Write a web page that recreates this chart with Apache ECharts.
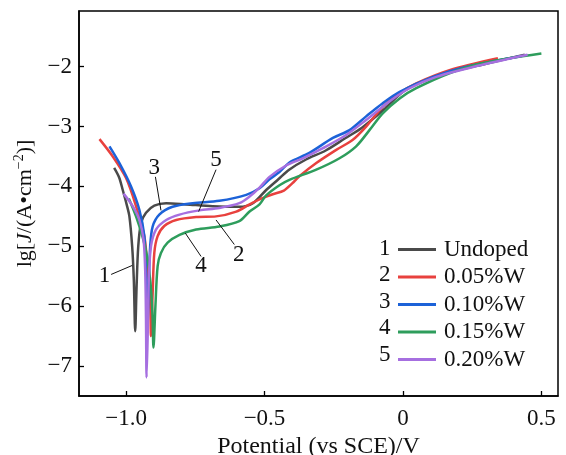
<!DOCTYPE html>
<html>
<head>
<meta charset="utf-8">
<script src="https://cdn.jsdelivr.net/npm/echarts@6/dist/echarts.min.js"></script>
<style>
  html, body { margin: 0; padding: 0; background: #fff; }
  #chart { width: 566px; height: 455px; }
</style>
</head>
<body>
<div id="chart"></div>
<script>
// series names (legend) and their numbers
const seriesNames = ['Undoped', '0.05%W', '0.10%W', '0.15%W', '0.20%W']
const seriesNumbers = ['1', '2', '3', '4', '5']
const seriesColors = ['#4a4a4a', '#e8413e', '#1c62d8', '#2e9d5c', '#a66fe0']

// [potential V, lg J]
const undoped = [
  [-1.043, -3.69], [-1.025, -3.85], [-1.012, -4.06], [-0.998, -4.3], [-0.988, -4.5],
  [-0.978, -5.0], [-0.972, -5.56], [-0.967, -6.42], [-0.962, -5.67], [-0.956, -5.0],
  [-0.946, -4.61], [-0.928, -4.44], [-0.898, -4.32], [-0.855, -4.28], [-0.783, -4.3],
  [-0.687, -4.33], [-0.591, -4.34], [-0.542, -4.28], [-0.494, -4.06], [-0.45, -3.88],
  [-0.411, -3.72], [-0.35, -3.55], [-0.279, -3.4], [-0.21, -3.2], [-0.148, -3.02],
  [-0.07, -2.72], [0.0, -2.42], [0.06, -2.27], [0.15, -2.12], [0.3, -1.95], [0.44, -1.8]
]
const w005 = [
  [-1.096, -3.21], [-1.048, -3.5], [-1.0, -3.86], [-0.964, -4.33], [-0.934, -4.83],
  [-0.922, -5.39], [-0.913, -5.92], [-0.91, -6.5], [-0.904, -5.78], [-0.898, -5.11],
  [-0.886, -4.83], [-0.862, -4.66], [-0.819, -4.56], [-0.747, -4.51], [-0.675, -4.5],
  [-0.602, -4.42], [-0.554, -4.3], [-0.51, -4.2], [-0.47, -4.13], [-0.43, -4.07],
  [-0.4, -3.95], [-0.374, -3.83], [-0.313, -3.61], [-0.241, -3.39], [-0.181, -3.22],
  [-0.133, -3.0], [-0.073, -2.67], [-0.012, -2.44], [0.048, -2.28], [0.168, -2.06], [0.343, -1.86]
]
const w010 = [
  [-1.06, -3.33], [-1.024, -3.61], [-0.982, -4.0], [-0.952, -4.39], [-0.934, -4.83],
  [-0.928, -5.39], [-0.925, -6.0], [-0.923, -6.35], [-0.918, -5.67], [-0.913, -5.0],
  [-0.904, -4.67], [-0.88, -4.47], [-0.832, -4.34], [-0.759, -4.28], [-0.663, -4.24],
  [-0.566, -4.14], [-0.518, -4.03], [-0.482, -3.88], [-0.446, -3.76], [-0.41, -3.6],
  [-0.338, -3.44], [-0.253, -3.19], [-0.193, -3.06], [-0.133, -2.83], [-0.073, -2.61],
  [-0.012, -2.42], [0.108, -2.17], [0.229, -2.0], [0.43, -1.82]
]
const w015 = [
  [-0.99, -4.2], [-0.964, -4.5], [-0.94, -4.85], [-0.925, -5.15], [-0.912, -5.6],
  [-0.905, -6.1], [-0.901, -6.69], [-0.894, -6.0], [-0.886, -5.33], [-0.874, -5.11],
  [-0.85, -4.94], [-0.807, -4.81], [-0.747, -4.72], [-0.663, -4.67], [-0.591, -4.58],
  [-0.554, -4.42], [-0.518, -4.3], [-0.494, -4.15], [-0.446, -3.98], [-0.41, -3.89],
  [-0.313, -3.72], [-0.229, -3.53], [-0.169, -3.33], [-0.121, -3.06], [-0.073, -2.78],
  [-0.012, -2.53], [0.048, -2.36], [0.168, -2.11], [0.289, -1.94], [0.5, -1.78]
]
const w020 = [
  [-1.009, -4.12], [-0.976, -4.33], [-0.952, -4.56], [-0.937, -4.89], [-0.931, -5.39],
  [-0.928, -6.22], [-0.926, -7.19], [-0.922, -6.5], [-0.918, -5.56], [-0.91, -5.0],
  [-0.892, -4.72], [-0.855, -4.56], [-0.807, -4.47], [-0.735, -4.4], [-0.663, -4.36],
  [-0.591, -4.28], [-0.554, -4.17], [-0.518, -4.02], [-0.482, -3.84], [-0.422, -3.65],
  [-0.362, -3.53], [-0.289, -3.36], [-0.205, -3.14], [-0.133, -2.89], [-0.049, -2.58],
  [0.024, -2.36], [0.12, -2.17], [0.265, -1.99], [0.45, -1.8]
]
const allSeries = [undoped, w005, w010, w015, w020]

// ticks
const xTickValues = [-1, -0.5, 0, 0.5]
const xTickLabels = ['\u22121.0', '\u22120.5', '0', '0.5']
const yTickValues = [-7, -6, -5, -4, -3, -2]
const yTickLabels = ['\u22127', '\u22126', '\u22125', '\u22124', '\u22123', '\u22122']

// curve callouts: number position, leader line start, leader line end
const calloutText = [[-1.078, -5.5], [-0.593, -5.14], [-0.898, -3.69], [-0.729, -5.33], [-0.675, -3.56]]
const calloutFrom = [[-1.054, -5.47], [-0.609, -4.97], [-0.894, -3.84], [-0.729, -5.17], [-0.675, -3.72]]
const calloutTo = [[-0.978, -5.32], [-0.675, -4.56], [-0.874, -4.4], [-0.786, -4.78], [-0.738, -4.42]]

const FONT = '"Liberation Serif", "Times New Roman", serif'

const chart = echarts.init(document.getElementById('chart'))

const legendTop = 238
const rowStep = 26.5

chart.setOption({
  animation: false,
  backgroundColor: '#fff',
  grid: {
    left: 79, right: 8, top: 11, bottom: 59,
    outerBoundsMode: 'none',
    show: true, borderColor: '#000', borderWidth: 1.5
  },
  xAxis: {
    type: 'value',
    min: -1.17, max: 0.56,
    name: 'Potential (vs SCE)/V',
    nameLocation: 'middle',
    nameGap: 32,
    nameTextStyle: { fontFamily: FONT, fontSize: 24, color: '#111' },
    axisLine: { onZero: false, lineStyle: { color: '#000', width: 1.5 } },
    axisTick: { inside: true, length: 5, customValues: xTickValues, lineStyle: { color: '#000', width: 1.3 } },
    axisLabel: {
      customValues: xTickValues,
      margin: 11,
      fontFamily: FONT, fontSize: 23, color: '#111',
      formatter: v => xTickLabels[xTickValues.indexOf(v)] ?? ''
    },
    splitLine: { show: false }
  },
  yAxis: {
    type: 'value',
    min: -7.5, max: -1.07,
    name: '{n|lg[}{i|J}{n|/(A\u2022cm}{s|\u22122}{n|)]}',
    nameLocation: 'middle',
    nameGap: 35,
    nameRotate: 90,
    nameTextStyle: {
      fontFamily: FONT, fontSize: 22, color: '#111',
      rich: {
        n: { fontFamily: FONT, fontSize: 22, color: '#111', lineHeight: 26 },
        i: { fontFamily: FONT, fontSize: 22, color: '#111', fontStyle: 'italic', lineHeight: 26 },
        s: { fontFamily: FONT, fontSize: 14, color: '#111', verticalAlign: 'top', lineHeight: 14 }
      }
    },
    axisLine: { onZero: false, lineStyle: { color: '#000', width: 1.5 } },
    axisTick: { inside: true, length: 5, customValues: yTickValues, lineStyle: { color: '#000', width: 1.3 } },
    axisLabel: {
      customValues: yTickValues,
      margin: 7,
      fontFamily: FONT, fontSize: 23, color: '#111',
      formatter: v => yTickLabels[yTickValues.indexOf(v)] ?? ''
    },
    splitLine: { show: false }
  },
  legend: {
    orient: 'vertical',
    left: 398,
    top: legendTop,
    padding: 0,
    icon: 'rect',
    itemWidth: 38,
    itemHeight: 3,
    itemGap: rowStep - 22,
    data: seriesNames,
    textStyle: { fontFamily: FONT, fontSize: 23, color: '#111', lineHeight: 22, padding: [0, 0, 0, 3] }
  },
  graphic: seriesNumbers.map((n, i) => ({
    type: 'text',
    left: 379,
    top: legendTop + i * rowStep - 1,
    style: { text: n, fontFamily: FONT, fontSize: 23, fill: '#111' }
  })),
  series: allSeries.map((d, i) => ({
    name: seriesNames[i],
    type: 'line',
    data: d,
    smooth: 0.3,
    showSymbol: false,
    symbol: 'none',
    color: seriesColors[i],
    lineStyle: { width: 2.5, color: seriesColors[i] },
    markLine: {
      silent: true,
      symbol: 'none',
      lineStyle: { color: '#111', width: 1, type: 'solid' },
      label: { show: false },
      data: [[{ coord: calloutFrom[i] }, { coord: calloutTo[i] }]]
    },
    markPoint: {
      silent: true,
      symbol: 'circle',
      symbolSize: 0,
      label: {
        show: true,
        position: 'inside',
        formatter: seriesNumbers[i],
        fontFamily: FONT, fontSize: 23, color: '#111'
      },
      data: [{ coord: calloutText[i] }]
    }
  }))
})
</script>
</body>
</html>
